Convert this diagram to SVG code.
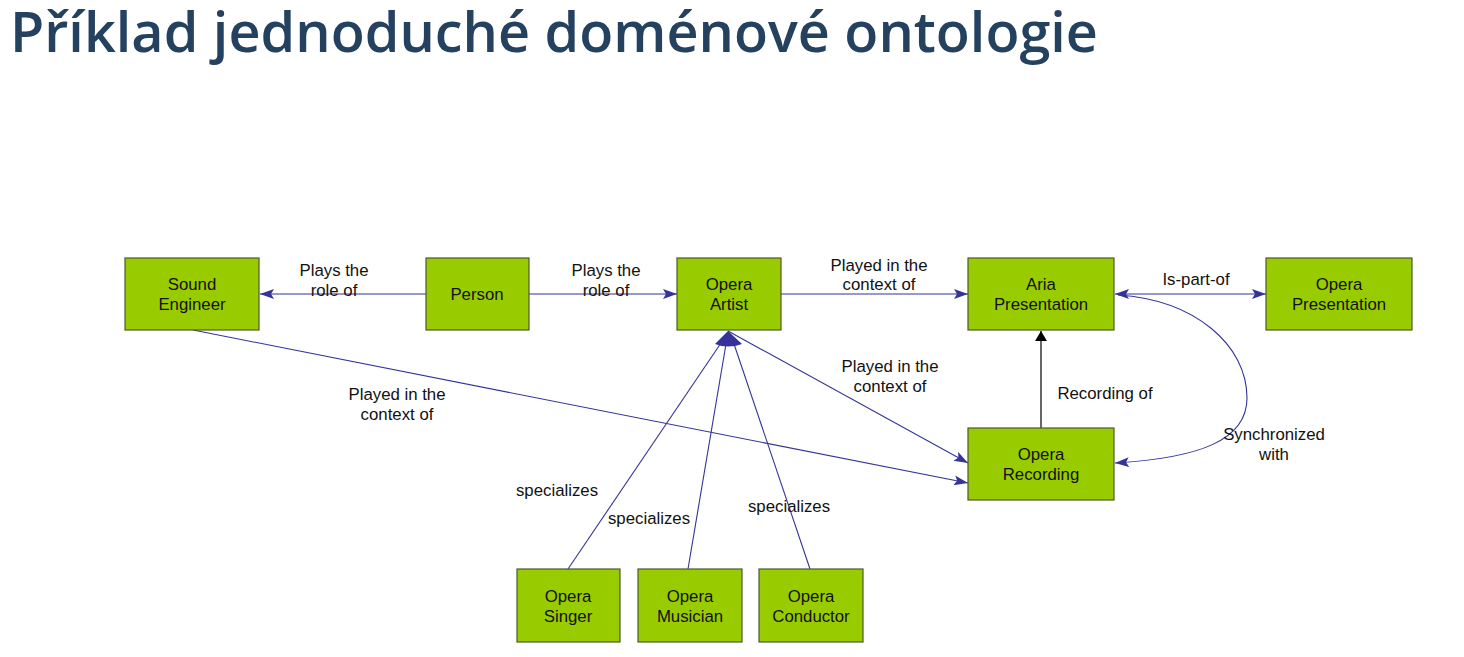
<svg xmlns="http://www.w3.org/2000/svg" width="1464" height="657" viewBox="0 0 1464 657">
  <defs>
    <marker id="arrow" viewBox="0 0 14 10" refX="14" refY="5" markerWidth="14" markerHeight="10" markerUnits="userSpaceOnUse" orient="auto-start-reverse">
      <path d="M0,0 L14,5 L0,10 L3,5 Z" fill="#333399"/>
    </marker>
    <marker id="arrow-black" viewBox="0 0 10 14" refX="10" refY="7" markerWidth="10" markerHeight="14" markerUnits="userSpaceOnUse" orient="auto">
      <path d="M0,1 L10,7 L0,13 Z" fill="#000"/>
    </marker>
    <style>
      .node rect { fill: #99cc00; stroke: #4a5a2a; stroke-width: 1.2; }
      .node text, .label { font-family: "Liberation Sans", Arial, sans-serif; font-size: 16.8px; fill: #111; text-anchor: middle; }
      .edge { fill: none; stroke: #333399; stroke-width: 1.1; }
      .title { font-family: "Open Sans", "Noto Sans", sans-serif; font-weight: 600; font-size: 56px; fill: #24425f; }
    </style>
  </defs>

  <rect width="1464" height="657" fill="#fff"/>

  <text class="title" x="10" y="52" textLength="1088" lengthAdjust="spacingAndGlyphs">Příklad jednoduché doménové ontologie</text>

  <g id="connectors">
    <line class="edge" x1="426" y1="294" x2="260" y2="294" marker-end="url(#arrow)"/>
    <line class="edge" x1="529" y1="294" x2="677" y2="294" marker-end="url(#arrow)"/>
    <line class="edge" x1="781" y1="294" x2="968" y2="294" marker-end="url(#arrow)"/>
    <line class="edge" x1="1115" y1="294" x2="1266" y2="294" marker-start="url(#arrow)" marker-end="url(#arrow)"/>
    <path class="edge" d="M1118,295 C1195,300 1247,345 1247,398 C1247,440 1200,458 1115,463" marker-end="url(#arrow)"/>
    <line x1="1041" y1="428" x2="1041" y2="331" stroke="#000" stroke-width="1.2" marker-end="url(#arrow-black)"/>
    <line class="edge" x1="193" y1="330" x2="968" y2="483" marker-end="url(#arrow)"/>
    <line class="edge" x1="728" y1="331" x2="968" y2="463" marker-end="url(#arrow)"/>
    <line class="edge" x1="568" y1="569" x2="721" y2="343"/>
    <line class="edge" x1="688" y1="569" x2="726" y2="344"/>
    <line class="edge" x1="810" y1="569" x2="734" y2="344"/>
    <path d="M728,331 L715,344 Q728,349 742,344 Z" fill="#333399"/>

    <text class="label" x="334" y="276">Plays the</text>
    <text class="label" x="334" y="296">role of</text>
    <text class="label" x="606" y="276">Plays the</text>
    <text class="label" x="606" y="296">role of</text>
    <text class="label" x="879" y="271">Played in the</text>
    <text class="label" x="879" y="290">context of</text>
    <text class="label" x="1196" y="285">Is-part-of</text>
    <text class="label" x="890" y="372">Played in the</text>
    <text class="label" x="890" y="392">context of</text>
    <text class="label" x="1105" y="399">Recording of</text>
    <text class="label" x="1274" y="440">Synchronized</text>
    <text class="label" x="1274" y="460">with</text>
    <text class="label" x="397" y="400">Played in the</text>
    <text class="label" x="397" y="420">context of</text>
    <text class="label" x="557" y="496">specializes</text>
    <text class="label" x="649" y="524">specializes</text>
    <text class="label" x="789" y="512">specializes</text>
  </g>

  <g id="sound-engineer" class="node">
    <rect x="125" y="258" width="134" height="72"/>
    <text x="192" y="290">Sound</text>
    <text x="192" y="310">Engineer</text>
  </g>
  <g id="person" class="node">
    <rect x="426" y="258" width="103" height="72"/>
    <text x="477" y="300">Person</text>
  </g>
  <g id="opera-artist" class="node">
    <rect x="677" y="258" width="104" height="72"/>
    <text x="729" y="290">Opera</text>
    <text x="729" y="310">Artist</text>
  </g>
  <g id="aria-presentation" class="node">
    <rect x="968" y="258" width="146" height="72"/>
    <text x="1041" y="290">Aria</text>
    <text x="1041" y="310">Presentation</text>
  </g>
  <g id="opera-presentation" class="node">
    <rect x="1266" y="258" width="146" height="72"/>
    <text x="1339" y="290">Opera</text>
    <text x="1339" y="310">Presentation</text>
  </g>
  <g id="opera-recording" class="node">
    <rect x="968" y="428" width="146" height="72"/>
    <text x="1041" y="460">Opera</text>
    <text x="1041" y="480">Recording</text>
  </g>
  <g id="opera-singer" class="node">
    <rect x="517" y="569" width="103" height="73"/>
    <text x="568" y="602">Opera</text>
    <text x="568" y="622">Singer</text>
  </g>
  <g id="opera-musician" class="node">
    <rect x="638" y="569" width="104" height="73"/>
    <text x="690" y="602">Opera</text>
    <text x="690" y="622">Musician</text>
  </g>
  <g id="opera-conductor" class="node">
    <rect x="759" y="569" width="104" height="73"/>
    <text x="811" y="602">Opera</text>
    <text x="811" y="622">Conductor</text>
  </g>
</svg>
